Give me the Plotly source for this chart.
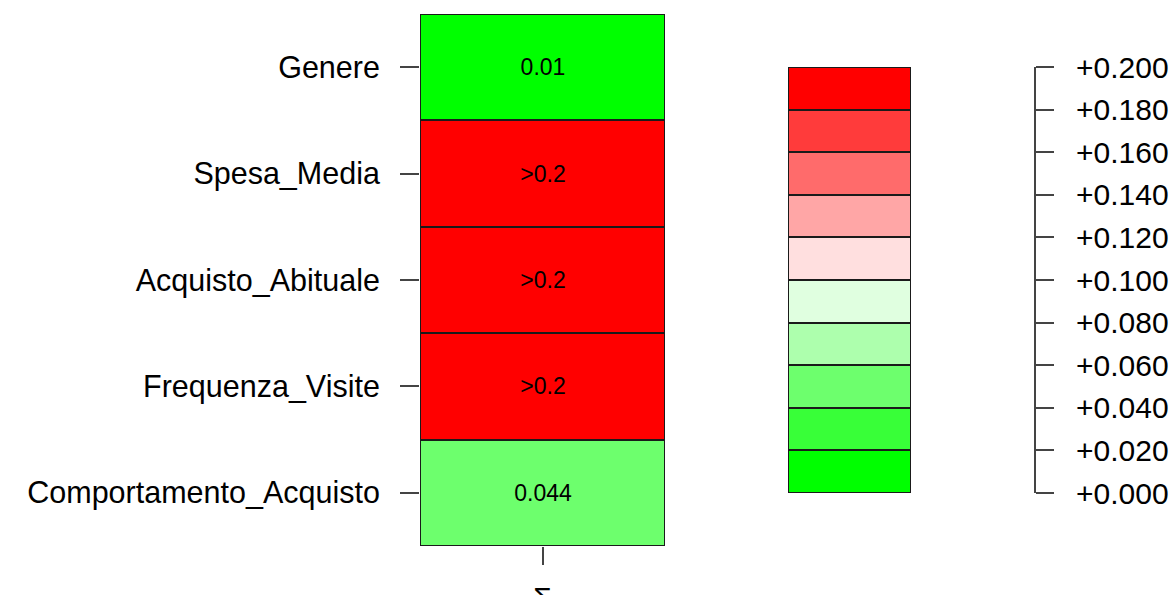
import plotly.graph_objects as go

# Significance per variable (values above 0.2 are shown as ">0.2")
variables = ["Genere", "Spesa_Media", "Acquisto_Abituale", "Frequenza_Visite", "Comportamento_Acquisto"]
p_values = [0.01, 0.25, 0.25, 0.25, 0.044]
column_label = ["Σ"]

# Discrete legend: 10 bins from 0 to 0.2, green (low) to red (high)
bin_edges = [0.00, 0.02, 0.04, 0.06, 0.08, 0.10, 0.12, 0.14, 0.16, 0.18, 0.20]
bin_colors = ["#00FF00", "#38FF38", "#6DFF6D", "#ADFFAD", "#E0FFE0",
              "#FFDFDF", "#FFA6A6", "#FF6B6B", "#FF3B3B", "#FF0000"]

ZMAX = bin_edges[-1]
FONT = "Liberation Sans, Arial, sans-serif"

# stepped colorscale built from the bins
colorscale = []
n = len(bin_colors)
for i, c in enumerate(bin_colors):
    colorscale.append([i / n, c])
    colorscale.append([(i + 1) / n, c])

cell_text = [">0.2" if v > ZMAX else f"{v:g}" for v in p_values]
z_main = [[min(v, ZMAX)] for v in p_values]

bin_mid = [(bin_edges[i] + bin_edges[i + 1]) / 2 for i in range(n)]
edge_labels = [f"{v:+.3f}" for v in bin_edges]

fig = go.Figure()

fig.add_trace(go.Heatmap(
    x=column_label, y=variables, z=z_main,
    text=[[t] for t in cell_text], texttemplate="%{text}",
    textfont=dict(size=23, color="black", family=FONT),
    colorscale=colorscale, zmin=0, zmax=ZMAX, showscale=False,
    xgap=2, ygap=2, hoverinfo="skip",
    xaxis="x", yaxis="y",
))

fig.add_trace(go.Heatmap(
    x=[0], y=bin_mid, z=[[m] for m in bin_mid],
    colorscale=colorscale, zmin=0, zmax=ZMAX, showscale=False,
    xgap=2, ygap=2, hoverinfo="skip",
    xaxis="x2", yaxis="y2",
))

W, H = 1171, 595

fig.update_layout(
    width=W, height=H,
    margin=dict(l=0, r=0, t=0, b=0),
    paper_bgcolor="white",
    plot_bgcolor="#1a1a1a",
    font=dict(family=FONT, size=30, color="black"),
    showlegend=False,
    xaxis=dict(
        domain=[420 / W, 665 / W], anchor="y", automargin=False,
        ticks="outside", ticklen=18, tickwidth=2, tickcolor="#444",
        showgrid=False, zeroline=False, showline=False,
        ticklabelstandoff=7, tickfont=dict(size=30),
    ),
    yaxis=dict(
        domain=[1 - 546 / H, 1 - 14 / H], anchor="x", automargin=False,
        autorange="reversed", categoryorder="array", categoryarray=variables,
        ticks="outside", ticklen=19, tickwidth=2, tickcolor="#444",
        showgrid=False, zeroline=False, showline=False,
        ticklabelstandoff=14, tickfont=dict(size=30.5),
    ),
    xaxis2=dict(
        domain=[788 / W, 911 / W], anchor="y2", automargin=False,
        showticklabels=False, ticks="", showgrid=False, zeroline=False,
        range=[-0.5, 0.5],
    ),
    yaxis2=dict(
        domain=[1 - 493 / H, 1 - 67 / H], anchor="free", position=1035 / W,
        side="right", range=[0, ZMAX], automargin=False,
        tickmode="array", tickvals=bin_edges, ticktext=edge_labels,
        ticks="outside", ticklen=18, tickwidth=2, tickcolor="#444",
        showline=True, linewidth=2, linecolor="#444",
        showgrid=False, zeroline=False,
        ticklabelstandoff=16, tickfont=dict(size=30),
    ),
)

fig.write_html("out.html")
